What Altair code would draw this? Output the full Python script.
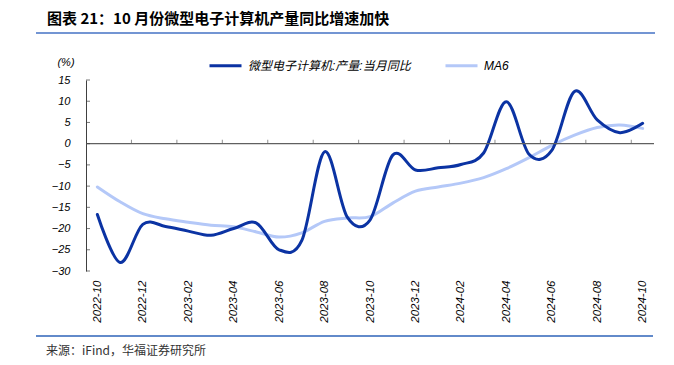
import altair as alt
import pandas as pd

months = [
    "2022-10", "2022-11", "2022-12",
    "2023-01", "2023-02", "2023-03", "2023-04", "2023-05", "2023-06",
    "2023-07", "2023-08", "2023-09", "2023-10", "2023-11", "2023-12",
    "2024-01", "2024-02", "2024-03", "2024-04", "2024-05", "2024-06",
    "2024-07", "2024-08", "2024-09", "2024-10",
]
production_yoy = [
    -16.7, -28.0, -19.0,
    -19.5, -20.6, -21.6, -20.0, -18.7, -25.0,
    -22.8, -1.9, -17.3, -18.0, -2.7, -6.2,
    -5.7, -4.9, -2.2, 9.9, -2.5, -1.6,
    12.3, 5.6, 2.6, 4.8,
]
ma6 = [
    -10.2, -13.7, -16.5,
    -17.7, -18.5, -19.2, -19.6, -20.8, -22.0,
    -21.0, -18.3, -17.5, -17.2, -14.0, -11.2,
    -10.2, -9.3, -8.0, -5.9, -3.3, -0.4,
    2.0, 3.8, 4.4, 3.6,
]
series_names = ["微型电子计算机:产量:当月同比", "MA6"]
series_colors = ["#0B33A3", "#B4C8F8"]
y_tick_values = [-30, -25, -20, -15, -10, -5, 0, 5, 10, 15]
x_label_index = list(range(0, 25, 2))
x_tick_pos = [i + 1.5 for i in range(0, 24, 2)]

title_text = "图表 21：10 月份微型电子计算机产量同比增速加快"
source_text = "来源：iFind，华福证券研究所"
unit_text = "(%)"

rows = []
for i, m in enumerate(months):
    rows.append({"idx": i, "month": m, "series": series_names[0], "value": production_yoy[i]})
    rows.append({"idx": i, "month": m, "series": series_names[1], "value": ma6[i]})
df = pd.DataFrame(rows)

W, H = 568, 191
LATIN = "Liberation Sans, Arial, Noto Sans CJK SC"
CJK = "Noto Sans CJK SC"

x_scale = alt.Scale(domain=[-0.5, 24.5], nice=False, zero=False)
y_scale = alt.Scale(domain=[-30, 15], nice=False, zero=False)
color_scale = alt.Scale(domain=series_names, range=series_colors)

label_expr = "[" + ",".join("'" + m + "'" for m in months) + "][datum.value]"

x_axis = alt.Axis(
    values=x_label_index, labelExpr=label_expr, labelAngle=270, grid=False,
    domain=False, ticks=False, tickSize=0, labelPadding=9, title=None,
    labelFont=LATIN, labelFontStyle="italic", labelFontSize=11.5,
    labelColor="#000000", labelAlign="right", labelBaseline="middle",
)
y_axis = alt.Axis(
    values=y_tick_values, grid=False, domain=True, domainColor="#404040",
    domainWidth=1, ticks=False, tickSize=0, labelPadding=16, title=None,
    labelFont=LATIN, labelFontStyle="italic", labelFontSize=11,
    labelColor="#000000",
)
legend = alt.Legend(
    title=None, orient="none", legendX=122, legendY=-32, direction="horizontal",
    symbolType="stroke", symbolSize=1024, symbolStrokeWidth=3,
    labelFont=LATIN, labelFontStyle="italic", labelFontSize=12,
    labelColor="#000000", labelLimit=400, columnPadding=28, labelOffset=5,
)

base = alt.Chart(df)

light_line = base.transform_filter(alt.datum.series == series_names[1]).mark_line(
    interpolate="cardinal", tension=0, strokeWidth=3, strokeCap="round"
).encode(
    x=alt.X("idx:Q", scale=x_scale, axis=x_axis),
    y=alt.Y("value:Q", scale=y_scale, axis=y_axis),
    color=alt.Color("series:N", scale=color_scale, legend=legend),
)
dark_line = base.transform_filter(alt.datum.series == series_names[0]).mark_line(
    interpolate="cardinal", tension=0, strokeWidth=3, strokeCap="round"
).encode(
    x=alt.X("idx:Q", scale=x_scale, axis=x_axis),
    y=alt.Y("value:Q", scale=y_scale, axis=y_axis),
    color=alt.Color("series:N", scale=color_scale, legend=legend),
)

zero_line = alt.Chart(pd.DataFrame({"idx": [0], "value": [0]})).mark_rule(
    color="#606060", strokeWidth=1.3
).encode(y=alt.Y("value:Q", scale=y_scale, axis=y_axis))

x_ticks = alt.Chart(pd.DataFrame({"idx": x_tick_pos, "value": [0] * len(x_tick_pos)})).mark_tick(
    orient="vertical", size=4, thickness=1, yOffset=-2, color="#606060"
).encode(
    x=alt.X("idx:Q", scale=x_scale, axis=x_axis),
    y=alt.Y("value:Q", scale=y_scale, axis=y_axis),
)

y_ticks = alt.Chart(pd.DataFrame({"value": y_tick_values})).mark_tick(
    orient="horizontal", size=4, thickness=1, color="#404040"
).encode(
    y=alt.Y("value:Q", scale=y_scale, axis=y_axis),
    x=alt.value(2),
)

one = pd.DataFrame({"a": [0]})
title_mark = alt.Chart(one).mark_text(
    text=title_text, font=CJK, fontWeight="bold", fontSize=15, align="left",
    baseline="middle", color="#000000"
).encode(x=alt.value(-39), y=alt.value(-61))

unit_mark = alt.Chart(one).mark_text(
    text=unit_text, font=LATIN, fontStyle="italic", fontSize=11, align="center",
    baseline="middle", color="#000000"
).encode(x=alt.value(-20), y=alt.value(-17))

source_mark = alt.Chart(one).mark_text(
    text=source_text, font=CJK, fontSize=12, align="left",
    baseline="middle", color="#333333"
).encode(x=alt.value(-40), y=alt.value(271))

top_rule = alt.Chart(one).mark_rule(color="#4472C4", strokeWidth=1.5).encode(
    x=alt.value(-50), x2=alt.value(569), y=alt.value(-47)
)
bottom_rule = alt.Chart(one).mark_rule(color="#2E63B8", strokeWidth=1.5).encode(
    x=alt.value(-50), x2=alt.value(567), y=alt.value(256)
)

chart = alt.layer(
    light_line, dark_line, zero_line, x_ticks, y_ticks,
    title_mark, unit_mark, source_mark, top_rule, bottom_rule,
).properties(
    width=W, height=H,
    padding={"left": 78, "top": 72, "right": 12, "bottom": 90},
    autosize=alt.AutoSizeParams(type="none"),
).configure(background="#ffffff").configure_view(stroke=None)

chart.save("out.html", embed_options={"renderer": "svg", "actions": False})
